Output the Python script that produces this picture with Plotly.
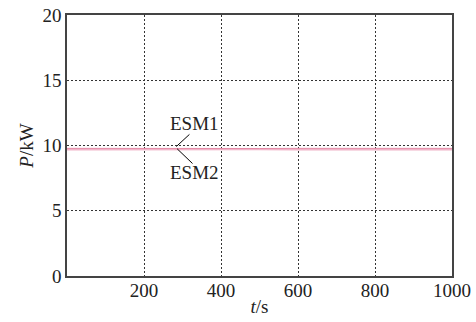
import plotly.graph_objects as go

t = [0, 100, 200, 300, 400, 500, 600, 700, 800, 900, 1000]
esm1 = [9.78, 9.77, 9.78, 9.77, 9.78, 9.77, 9.78, 9.77, 9.78, 9.77, 9.78]
esm2 = [9.70, 9.71, 9.70, 9.71, 9.70, 9.71, 9.70, 9.71, 9.70, 9.71, 9.70]
xticks = [200, 400, 600, 800, 1000]
yticks = [0, 5, 10, 15, 20]

fig = go.Figure()
fig.add_trace(go.Scatter(x=t, y=esm2, mode="lines", line=dict(color="#f0b4c8", width=2), name="ESM2"))
fig.add_trace(go.Scatter(x=t, y=esm1, mode="lines", line=dict(color="#e48aa6", width=1), name="ESM1"))

font = dict(family="Liberation Serif, Times New Roman, serif", size=19, color="#222")

# pointer lines
fig.add_shape(type="line", x0=318, y0=10.85, x1=284, y1=9.92, line=dict(color="black", width=1))
fig.add_shape(type="line", x0=286, y0=9.75, x1=326, y1=8.62, line=dict(color="black", width=1))
fig.add_annotation(x=330, y=11.65, text="ESM1", showarrow=False, font=font)
fig.add_annotation(x=330, y=7.9, text="ESM2", showarrow=False, font=font)

fig.update_layout(
    width=476, height=322,
    margin=dict(l=67, r=24, t=15, b=46, autoexpand=False),
    plot_bgcolor="white", paper_bgcolor="white",
    showlegend=False,
    font=font,
)
fig.update_xaxes(
    range=[0, 1000], tickvals=xticks, ticks="", showline=True, mirror=True, automargin=False,
    linecolor="#444", linewidth=1.5, showgrid=True, gridcolor="#333", griddash="2px,2px", gridwidth=1,
    zeroline=False, title=dict(text="<i>t</i>/s", standoff=0, font=font), tickfont=font,
    ticklabelstandoff=-4,
)
fig.update_yaxes(
    range=[0, 20], tickvals=yticks, ticks="", showline=True, mirror=True, automargin=False,
    linecolor="#444", linewidth=1.5, showgrid=True, gridcolor="#333", griddash="2px,2px", gridwidth=1,
    zeroline=False, title=dict(text="<i>P</i>/kW", standoff=4, font=font), tickfont=font,
)
fig.write_html("out.html")
